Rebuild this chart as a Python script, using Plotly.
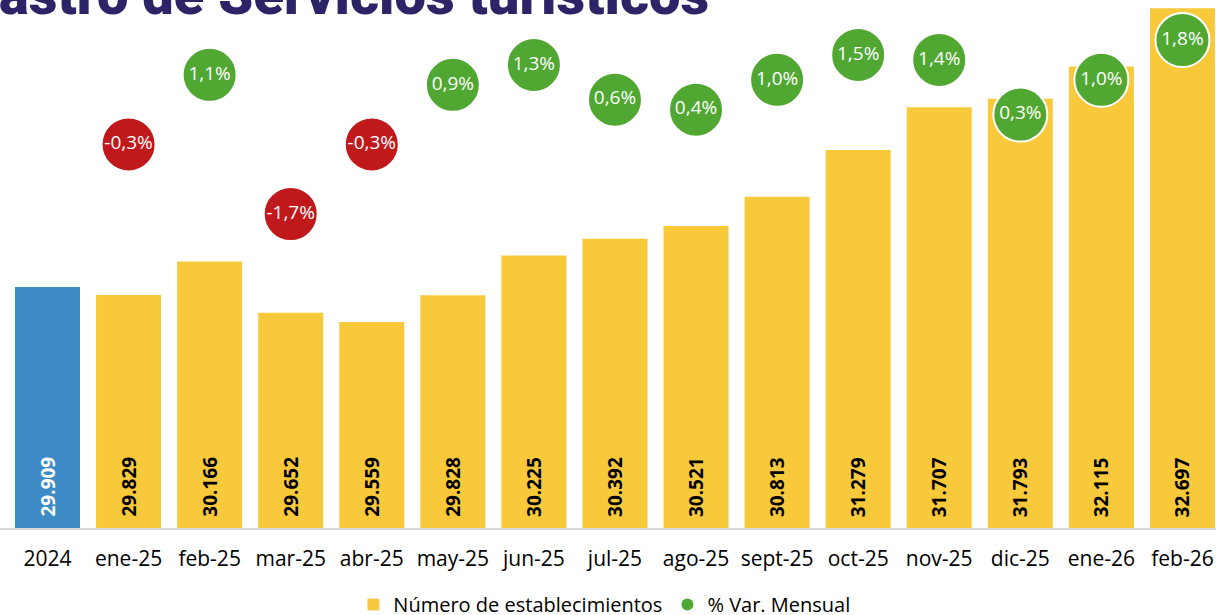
import plotly.graph_objects as go

categories = ["2024", "ene-25", "feb-25", "mar-25", "abr-25", "may-25", "jun-25",
              "jul-25", "ago-25", "sept-25", "oct-25", "nov-25", "dic-25", "ene-26", "feb-26"]
establecimientos = [29909, 29829, 30166, 29652, 29559, 29828, 30225,
                    30392, 30521, 30813, 31279, 31707, 31793, 32115, 32697]
var_categories = categories[1:]
var_mensual = [-0.3, 1.1, -1.7, -0.3, 0.9, 1.3, 0.6, 0.4, 1.0, 1.5, 1.4, 0.3, 1.0, 1.8]

title_text = "astro de Servicios turísticos"
bar_name = "Número de establecimientos"
var_name = "% Var. Mensual"

BLUE = "#3E8AC5"
YELLOW = "#F9C93C"
GREEN = "#50A732"
RED = "#C0191C"
FONT = "Open Sans"
Y_MIN, Y_MAX = 27500, 32780

bar_colors = [BLUE] + [YELLOW] * (len(categories) - 1)
bar_text_colors = ["white"] + ["black"] * (len(categories) - 1)
bar_text = [f"{v:,}".replace(",", ".") for v in establecimientos]
var_colors = [GREEN if v >= 0 else RED for v in var_mensual]
var_text = [f"{v:.1f}%".replace(".", ",") for v in var_mensual]

fig = go.Figure()
fig.add_trace(go.Bar(
    x=categories, y=establecimientos,
    marker=dict(color=bar_colors, line=dict(width=0)),
    showlegend=False, hoverinfo="skip",
))
fig.add_trace(go.Scatter(
    x=var_categories, y=var_mensual, yaxis="y2", mode="markers+text",
    marker=dict(size=54, color=var_colors, line=dict(color="white", width=2)),
    text=var_text, textposition="middle center",
    textfont=dict(family=FONT, size=19, color="white"),
    showlegend=False, hoverinfo="skip",
))
# legend entries
fig.add_trace(go.Bar(x=[None], y=[None], name=bar_name, marker_color=YELLOW, showlegend=True))
fig.add_trace(go.Scatter(x=[None], y=[None], name=var_name, mode="markers", yaxis="y2",
                         marker=dict(size=12, color=GREEN), showlegend=True))

annotations = [dict(
    text=title_text, xref="paper", yref="paper", x=0, y=1, xanchor="left", yanchor="bottom",
    xshift=-3, yshift=-30, showarrow=False,
    font=dict(family="Roboto", size=56, color="#2D2468", weight=900),
)]
for i, (txt, col) in enumerate(zip(bar_text, bar_text_colors)):
    annotations.append(dict(
        x=i, y=Y_MIN, xref="x", yref="y", text=txt, textangle=-90,
        xanchor="center", yanchor="bottom", yshift=9, showarrow=False,
        font=dict(family=FONT, size=19, color=col, weight="bold"),
    ))

fig.update_layout(
    width=1216, height=615,
    margin=dict(l=0, r=0, t=0, b=87),
    paper_bgcolor="white", plot_bgcolor="white",
    bargap=0.198, barmode="overlay",
    font=dict(family=FONT, size=19, color="black"),
    xaxis=dict(type="category", range=[-0.586, 14.414], showgrid=False, zeroline=False,
               showline=True, linecolor="#d9d9d9", linewidth=2,
               tickfont=dict(family=FONT, size=21, color="black"),
               ticks="", ticklabelstandoff=11),
    yaxis=dict(range=[Y_MIN, Y_MAX], visible=False, showgrid=False),
    yaxis2=dict(range=[-8.018, 2.606], overlaying="y", visible=False, showgrid=False),
    legend=dict(orientation="h", x=0.497, xanchor="center", yref="container", y=0.017,
                yanchor="middle",
                font=dict(family=FONT, size=20, color="black"), traceorder="normal"),
    annotations=annotations,
)

fig.write_html("out.html", config={"displayModeBar": False},
               post_script="document.body.style.margin='0px';")
